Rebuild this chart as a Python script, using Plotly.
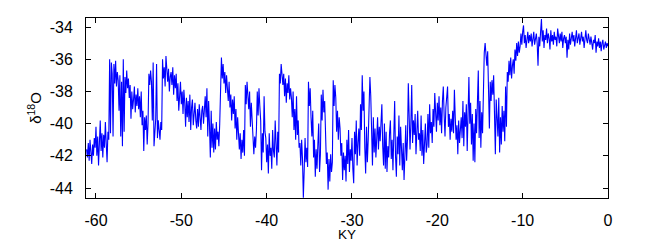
import numpy as np
import plotly.graph_objects as go

# Age sampling grid (KY, negative = before present), 0.1 KY steps from -61.1
age_start = -61.1
age_step = 0.1

# delta-18O values (per mil), 10 values per KY
d18O = [
    -41.6, -42.1, -41.2, -42.3, -41.0, -41.8, -42.5, -41.3, -42.0, -40.9,
    -41.5, -40.2, -42.0, -40.8, -42.6, -41.2, -39.8, -41.7, -40.6, -42.1,
    -40.7, -41.5, -39.9, -41.2, -42.4, -40.5, -41.0, -36.0, -40.6, -36.2,
    -36.9, -40.8, -36.3, -37.5, -36.1, -37.7, -36.8, -37.3, -39.2, -37.0,
    -40.8, -37.4, -41.4, -36.0, -40.5, -37.1, -38.1, -36.7, -37.8, -37.2,
    -38.4, -37.6, -39.7, -38.0, -39.1, -38.5, -37.7, -39.3, -38.2, -38.9,
    -37.8, -39.1, -38.3, -39.6, -38.0, -40.1, -39.2, -41.7, -39.6, -40.4,
    -39.5, -41.3, -40.0, -36.9, -37.6, -36.7, -37.4, -39.8, -36.2, -41.4,
    -40.2, -39.7, -36.3, -40.9, -39.8, -40.6, -41.0, -39.9, -40.4, -36.0,
    -37.2, -36.5, -37.7, -35.8, -36.9, -37.4, -36.6, -38.0, -37.1, -36.8,
    -37.6, -36.5, -38.2, -37.0, -37.8, -36.9, -38.6, -37.5, -39.2, -38.1,
    -37.4, -38.8, -38.0, -39.4, -37.9, -38.7, -40.2, -38.4, -39.6, -38.6,
    -39.9, -38.2, -40.4, -39.0, -38.5, -40.1, -39.3, -38.7, -39.8, -40.3,
    -39.1, -40.2, -38.8, -39.7, -40.4, -39.2, -38.9, -40.0, -39.4, -38.3,
    -39.6, -37.8, -40.8, -38.6, -40.1, -42.1, -39.2, -41.5, -40.0, -41.8,
    -40.3, -41.6, -39.9, -41.0, -40.5, -41.4, -40.0, -36.4, -35.9, -37.2,
    -36.3, -37.5, -36.8, -38.1, -37.0, -37.8, -38.6, -37.4, -39.0, -38.2,
    -39.8, -38.5, -39.4, -38.3, -40.3, -39.1, -41.0, -39.6, -40.8, -41.6,
    -40.6, -42.2, -41.0, -41.8, -40.4, -42.0, -37.6, -38.8, -37.4, -38.3,
    -39.1, -38.0, -40.2, -38.7, -39.6, -40.3, -41.9, -40.8, -41.5, -40.4,
    -38.0, -39.5, -37.8, -38.9, -39.8, -42.9, -40.6, -41.8, -38.3, -40.5,
    -40.9, -42.4, -41.3, -43.1, -40.6, -42.0, -41.5, -42.8, -40.4, -41.7,
    -42.1, -39.8, -41.0, -42.6, -40.5, -41.8, -36.9, -37.5, -36.3, -37.0,
    -37.6, -36.9, -38.3, -37.2, -38.7, -37.5, -38.1, -37.0, -38.5, -37.8,
    -38.4, -39.6, -38.0, -40.4, -39.1, -41.0, -38.3, -40.7, -39.8, -41.5,
    -41.2, -42.6, -41.0, -42.2, -44.6, -42.9, -40.9, -42.4, -41.5, -42.7,
    -37.4, -38.9, -37.8, -39.6, -40.8, -39.2, -42.1, -41.0, -43.3, -41.6,
    -42.8, -41.3, -40.0, -43.0, -41.9, -38.2, -39.8, -37.9, -39.3, -38.6,
    -40.0, -42.5, -41.8, -44.1, -42.2, -43.6, -41.9, -43.0, -42.4, -37.3,
    -38.9, -37.6, -38.4, -40.5, -39.2, -41.0, -39.6, -40.3, -42.0, -41.2,
    -43.5, -41.8, -42.9, -42.0, -43.6, -41.0, -42.5, -40.4, -43.0, -41.6,
    -42.3, -40.9, -42.8, -43.7, -40.5, -41.9, -39.8, -42.6, -41.2, -40.3,
    -42.0, -38.8, -40.4, -37.0, -39.2, -38.0, -41.5, -43.1, -40.2, -42.4,
    -41.0, -39.5, -37.1, -38.3, -40.0, -42.6, -39.6, -41.8, -40.3, -42.1,
    -40.9, -39.6, -41.6, -40.2, -41.1, -39.8, -38.8, -41.4, -42.6, -40.0,
    -42.8, -40.5, -43.0, -41.4, -42.1, -40.6, -39.8, -42.2, -41.0, -42.9,
    -40.7, -38.6, -42.0, -43.3, -40.8, -41.9, -39.5, -42.6, -40.2, -41.3,
    -42.9, -41.2, -43.5, -42.0, -40.1, -42.3, -41.0, -37.5, -39.9, -41.6,
    -40.0, -37.6, -41.2, -39.8, -40.7, -39.4, -41.9, -40.3, -39.2, -41.0,
    -40.6, -41.7, -39.5, -42.0, -40.4, -42.5, -41.1, -40.0, -41.8, -41.3,
    -39.4, -41.5, -38.8, -40.6, -39.9, -41.2, -39.1, -40.2, -38.1, -39.6,
    -40.5, -38.7, -39.8, -38.3, -40.1, -39.0, -40.6, -38.6, -37.7, -39.5,
    -40.8, -39.0, -38.4, -37.7, -40.2, -39.4, -41.0, -39.7, -40.5, -39.2,
    -40.6, -37.9, -39.6, -41.0, -40.1, -41.9, -39.8, -41.2, -40.4, -39.6,
    -40.9, -38.6, -41.4, -39.3, -40.2, -38.8, -41.7, -39.5, -37.1, -40.0,
    -38.7, -41.3, -39.4, -42.3, -40.0, -42.4, -39.1, -40.6, -38.4, -36.7,
    -40.9, -38.6, -41.5, -39.3, -40.6, -36.8, -35.6, -35.0, -35.9, -36.4,
    -35.5, -37.9, -40.3, -37.4, -38.6, -37.3, -38.2, -37.0, -39.6, -41.9,
    -38.5, -39.9, -40.8, -38.4, -41.8, -39.6, -41.3, -38.9, -40.5, -39.2,
    -41.1, -37.7, -40.2, -36.8, -37.4, -36.1, -37.0, -35.9, -37.2, -36.4,
    -36.0, -36.9, -35.4, -36.1, -35.0, -35.8, -34.9, -35.6, -35.2, -34.4,
    -35.1, -34.3, -33.9, -35.0, -34.5, -35.3, -34.6, -34.3, -35.0, -34.5,
    -34.9, -34.4, -35.2, -34.6, -34.3, -35.1, -34.7, -34.4, -35.0, -36.4,
    -34.6, -35.2, -34.3, -33.5, -34.9, -34.2, -35.3, -34.5, -34.8, -34.1,
    -35.0, -34.4, -34.7, -35.4, -34.2, -34.9, -34.5, -35.1, -34.3, -34.8,
    -34.6, -35.2, -34.1, -34.8, -35.0, -34.4, -34.9, -34.3, -35.3, -34.7,
    -34.5, -35.0, -34.6, -35.9, -34.8, -35.4, -34.4, -35.1, -34.7, -34.3,
    -34.9, -34.5, -35.2, -34.6, -34.2, -35.0, -34.7, -34.4, -35.1, -34.8,
    -34.3, -34.9, -34.6, -35.3, -34.5, -34.2, -34.8, -35.0, -34.4, -34.7,
    -35.1, -34.6, -34.9, -35.4, -34.8, -35.0, -34.5, -35.6, -34.9, -35.2,
    -34.7, -35.3, -34.9, -35.5, -35.0, -34.8, -35.4, -35.1, -34.9, -35.3,
    -35.0, -35.2,
]

ages = np.round(age_start + age_step * np.arange(len(d18O)), 1)

x_ticks = [-60, -50, -40, -30, -20, -10, 0]
x_ticklabels = ["-60", "-50", "-40", "-30", "-20", "-10", "0"]
y_ticks = [-44, -42, -40, -38, -36, -34]
y_ticklabels = ["-44", "-42", "-40", "-38", "-36", "-34"]
x_title = "KY"
y_title = "δ<sup>18</sup>O"

FONT = "Liberation Sans, Arial, sans-serif"

fig = go.Figure()
fig.add_trace(go.Scatter(
    x=ages, y=d18O, mode="lines",
    line=dict(color="#0000ff", width=1.1),
    showlegend=False, hoverinfo="skip",
))

axis_common = dict(
    showline=True, linecolor="black", linewidth=1, mirror="ticks",
    ticks="inside", ticklen=5, tickwidth=1, tickcolor="black",
    showgrid=False, zeroline=False, automargin=False,
    tickfont=dict(family=FONT, size=16, color="black"),
)

fig.update_layout(
    width=651, height=244,
    margin=dict(l=86, r=43, t=18, b=46, autoexpand=False),
    paper_bgcolor="white", plot_bgcolor="white",
    xaxis=dict(
        range=[-61.17, 0], tickvals=x_ticks, ticktext=x_ticklabels,
        ticklabelstandoff=8,
        **axis_common,
    ),
    yaxis=dict(
        range=[-44.62, -33.44], tickvals=y_ticks, ticktext=y_ticklabels,
        title=dict(text=y_title, font=dict(family=FONT, size=15, color="black"), standoff=4),
        ticklabelstandoff=9,
        **axis_common,
    ),
    annotations=[dict(
        text=x_title, xref="paper", yref="paper", x=0.5, y=-0.205,
        xanchor="center", yanchor="middle", showarrow=False,
        font=dict(family=FONT, size=13.5, color="black"),
    )],
)

fig.write_html("out.html")
